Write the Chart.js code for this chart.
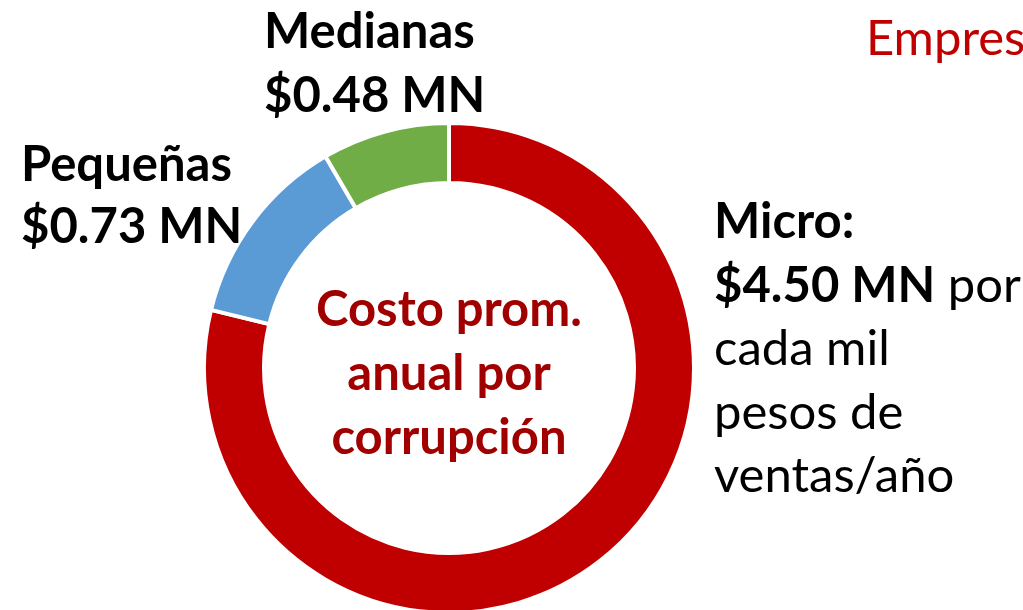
<!DOCTYPE html>
<html>
<head>
<meta charset="utf-8">
<script src="https://cdn.jsdelivr.net/npm/chart.js@4"></script>
<style>
  html, body { margin: 0; padding: 0; background: #fff; overflow: hidden; }
  body { width: 1023px; height: 610px; position: relative; font-family: Lato, "Open Sans", sans-serif; }
  #wrap { position: absolute; left: 202px; top: 121px; width: 494px; height: 494px; }
  .lbl { position: absolute; color: #000; font-size: 49px; line-height: 64px; white-space: nowrap; }
  .b { font-weight: bold; }
  #center { position: absolute; left: 249px; top: 275px; width: 400px; text-align: center;
            color: #a00000; font-weight: bold; font-size: 49px; line-height: 64px; }
  #title { position: absolute; left: 866px; top: 4px; color: #c00000; font-size: 49px; line-height: 64px; white-space: nowrap; }
</style>
</head>
<body>
<div id="title">Empresas</div>
<div id="wrap"><canvas id="chart" width="494" height="494"></canvas></div>
<div id="center">Costo prom.<br>anual por<br>corrupción</div>
<div class="lbl b" id="lblMed" style="left:264px; top:-3px;"></div>
<div class="lbl b" id="lblPeq" style="left:21px; top:131px; line-height:62px;"></div>
<div class="lbl" id="lblMic" style="left:714px; top:188px; line-height:63.5px;"></div>

<script>
// ---------- Data ----------
const categories = ["Micro", "Pequeñas", "Medianas"];
const costs = [4.50, 0.73, 0.48]; // pesos per thousand pesos of sales / year
const colors = ["#c00000", "#5b9bd5", "#70ad47"];

const money = v => `$${v.toFixed(2)} MN`;

// ---------- Labels ----------
document.getElementById("lblMed").innerHTML = `${categories[2]}<br>${money(costs[2])}`;
document.getElementById("lblPeq").innerHTML = `${categories[1]}<br>${money(costs[1])}`;
document.getElementById("lblMic").innerHTML =
  `<b>${categories[0]}:</b><br><b>${money(costs[0])}</b> por<br>cada mil<br>pesos de<br>ventas/año`;

// ---------- Chart ----------
const ctx = document.getElementById("chart").getContext("2d");
new Chart(ctx, {
  type: "doughnut",
  data: {
    labels: categories,
    datasets: [{
      data: costs,
      backgroundColor: colors,
      borderColor: "#ffffff",
      borderWidth: 4
    }]
  },
  options: {
    responsive: false,
    animation: false,
    cutout: "75.5%",
    layout: { padding: 0 },
    plugins: { legend: { display: false }, tooltip: { enabled: false } }
  }
});
</script>
</body>
</html>
